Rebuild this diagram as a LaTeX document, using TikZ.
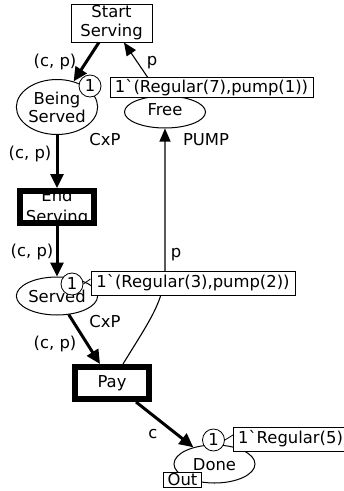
\documentclass[tikz,border=0pt]{standalone}
\usepackage{fontspec}
\newfontfamily\cpn{DejaVu Sans}
\usetikzlibrary{shapes.geometric,arrows.meta}

\tikzset{
  net/.style={font=\cpn\fontsize{16.4}{18}\selectfont},
  place/.style={ellipse, draw, line width=1pt, fill=white, inner sep=0pt,
    minimum width=81pt},
  trans/.style={rectangle, draw, line width=1pt, fill=white, inner sep=0pt,
    minimum width=81pt, minimum height=38pt, align=center},
  bigtrans/.style={rectangle, draw, line width=6pt, inner sep=0pt,
    minimum width=74pt, minimum height=32pt},
  token/.style={circle, draw, line width=0.8pt, fill=white, inner sep=0pt,
    minimum size=22pt},
  marking/.style={rectangle, draw, line width=1pt, fill=white, inner sep=0pt},
  tick/.style={line width=0.8pt},
  inscr/.style={inner sep=0pt},
  thinarc/.style={line width=1.1pt, -{Triangle[length=13pt,width=11pt]}},
  thickarc/.style={line width=3pt, -{Triangle[length=14pt,width=13pt]}},
}

\begin{document}
\begin{tikzpicture}[x=1pt, y=-1pt, net]
\useasboundingbox (0,0) rectangle (344,491);

% places
\node[place, minimum height=55pt, align=center] (bs) at (57,107) {Being\\Served};
\node[place, minimum height=32pt] (free) at (165,112) {};
\node at (165,110) {Free};
\node[place, minimum height=38pt] (sd) at (57,296) {Served};
\node[place, minimum height=38pt] (done) at (214.5,464) {};
\node at (214.5,465) {Done};

% transitions
\node[trans, font=\cpn\fontsize{16.4}{19}\selectfont] (ss) at (111.5,23) {Start\\Serving};
\node[align=center, font=\cpn\fontsize{16.4}{21}\selectfont] at (57,207) {End\\Serving};
\node[bigtrans] (es) at (57,207) {};
\node[fill=white, minimum width=68pt, minimum height=26pt, inner sep=0pt] at (112,383) {};
\node at (112,383) {Pay};
\node[bigtrans] (pay) at (112,383) {};

% arcs
\draw[thickarc] (ss) -- (bs);
\draw[thinarc] ([xshift=-5pt]free.north) -- ([xshift=12.5pt]ss.south);
\draw[thickarc] (bs) -- (es);
\draw[thickarc] (es) -- (sd);
\draw[thickarc] (sd) -- (pay);
\draw[thickarc] (pay) -- (done);
\coordinate (bend) at (165,268);
\draw[thinarc] ([xshift=11pt]pay.north) .. controls (150,320) and (165,300) .. (bend) -- (free);

% arc inscriptions
\node[inscr] at (55,62) {(c, p)};
\node[inscr] at (152,63) {p};
\node[inscr] at (105,140) {CxP};
\node[inscr] at (206,140) {PUMP};
\node[inscr] at (30,154) {(c, p)};
\node[inscr] at (32,252) {(c, p)};
\node[inscr] at (176,255) {p};
\node[inscr] at (105,322) {CxP};
\node[inscr] at (55,344) {(c, p)};
\node[inscr] at (153,434) {c};

% markings
\node[token] (t1) at (90,86) {1};
\node[marking, minimum width=203pt, minimum height=20pt] (m1) at (211.5,87.5) {1\symbol{96}(Regular(7),pump(1))};

\node[token] (t2) at (72,284) {1};
\node[marking, minimum width=204pt, minimum height=24pt] (m2) at (193,283) {1\symbol{96}(Regular(3),pump(2))};
\draw[tick] (t2.east) -- ([yshift=4pt]m2.west);

\node[token] (t3) at (213.5,440) {1};
\node[marking, minimum width=116pt, minimum height=24pt, anchor=west] (m3) at (233,439) {\hspace*{4pt}1\symbol{96}Regular(5)\hspace*{6pt}};
\draw[tick] (t3.east) -- ([yshift=4pt]m3.west);

% port tag
\node[marking, line width=0.8pt, minimum width=38pt, minimum height=15pt] (out) at (182.5,480) {Out};
\end{tikzpicture}
\end{document}
